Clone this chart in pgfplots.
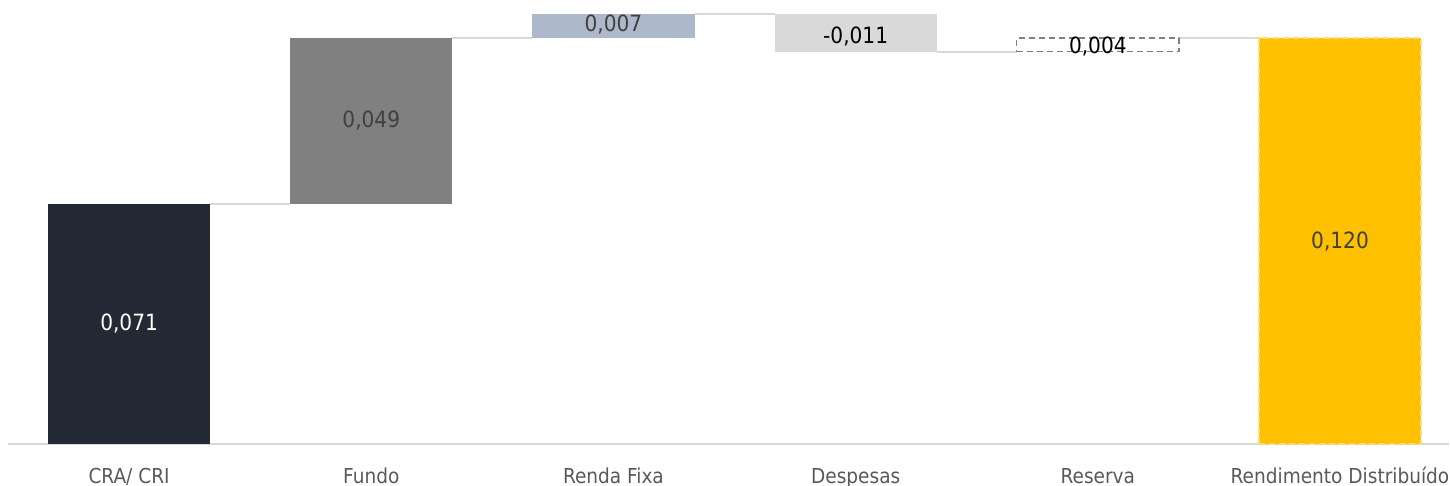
\documentclass[border=0pt]{standalone}
\usepackage{fontspec}
\setmainfont{DejaVu Sans Condensed}
\usepackage{pgfplots}
\pgfplotsset{compat=1.18}
\definecolor{navy}{HTML}{232A36}
\definecolor{fundo}{HTML}{808080}
\definecolor{renda}{HTML}{ADB9CA}
\definecolor{desp}{HTML}{D9D9D9}
\definecolor{gold}{HTML}{FFC000}
\definecolor{conn}{HTML}{D9D9D9}
\definecolor{lbl}{HTML}{404040}
\definecolor{cat}{HTML}{595959}
\tikzset{dl/.style={font=\fontsize{11.2}{13}\selectfont}}

\begin{document}
\begin{tikzpicture}
\begin{axis}[at={(4pt,21pt)},anchor=south west,
  scale only axis,width=720.5pt,height=221.6pt,
  xmin=-0.5,xmax=5.45,ymin=0,ymax=0.131,
  axis x line=bottom,axis y line=none,
  axis line style={-,draw=conn,line width=1pt},
  xtick={0,...,5},
  xticklabels={CRA/ CRI,Fundo,Renda Fixa,Despesas,Reserva,Rendimento Distribuído},
  xtick style={draw=none},
  x tick label style={font=\fontsize{10.3}{12}\selectfont,text=cat,anchor=base,yshift=-17.5pt},
  ytick=\empty,clip=false]
% connectors
\addplot[conn,line width=1pt] coordinates {(0.335,0.071) (0.665,0.071)};
\addplot[conn,line width=1pt] coordinates {(1.335,0.120) (1.665,0.120)};
\addplot[conn,line width=1pt] coordinates {(2.335,0.127) (2.665,0.127)};
\addplot[conn,line width=1pt] coordinates {(3.335,0.116) (3.665,0.116)};
\addplot[conn,line width=1pt] coordinates {(4.335,0.120) (4.665,0.120)};
% bars
\addplot[fill=navy,draw=none] coordinates {(-0.335,0) (0.335,0) (0.335,0.071) (-0.335,0.071)} -- cycle;
\addplot[fill=fundo,draw=none] coordinates {(0.665,0.071) (1.335,0.071) (1.335,0.120) (0.665,0.120)} -- cycle;
\addplot[fill=renda,draw=none] coordinates {(1.665,0.120) (2.335,0.120) (2.335,0.127) (1.665,0.127)} -- cycle;
\addplot[fill=desp,draw=none] coordinates {(2.665,0.116) (3.335,0.116) (3.335,0.127) (2.665,0.127)} -- cycle;
\addplot[fill=white,draw=fundo,line width=0.75pt,dash pattern=on 3pt off 2pt] coordinates {(3.665,0.116) (4.335,0.116) (4.335,0.120) (3.665,0.120)} -- cycle;
\addplot[fill=gold,draw=gold!55!white,line width=0.75pt,dash pattern=on 3pt off 2pt] coordinates {(4.665,0) (5.335,0) (5.335,0.120) (4.665,0.120)} -- cycle;
% data labels
\node[dl,text=white] at (axis cs:0,0.0355) {0,071};
\node[dl,text=lbl] at (axis cs:1,0.0955) {0,049};
\node[dl,text=lbl] at (axis cs:2,0.1240) {0,007};
\node[dl,text=black] at (axis cs:3,0.1205) {-0,011};
\node[dl,text=black] at (axis cs:4,0.1175) {0,004};
\node[dl,text=lbl] at (axis cs:5,0.060) {0,120};
\end{axis}
\pgfresetboundingbox
\path[use as bounding box] (0,0) rectangle (725pt,243pt);
\end{tikzpicture}
\end{document}
